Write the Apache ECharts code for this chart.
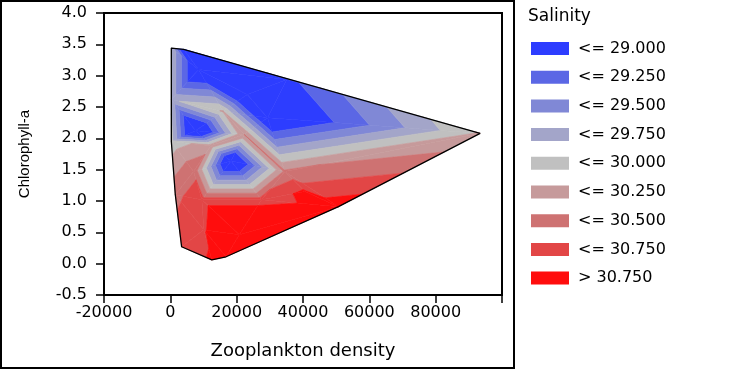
<!DOCTYPE html>
<html>
<head>
<meta charset="utf-8">
<script src="https://cdn.jsdelivr.net/npm/echarts@6.0.0/dist/echarts.min.js"></script>
<style>
  html, body { margin: 0; padding: 0; background: #fff; }
  #chart { width: 738px; height: 372px; }
</style>
</head>
<body>
<div id="chart"></div>
<script>
// measured stations: zooplankton density, chlorophyll-a, salinity
var zooDensity  = [300, 4000, 35100, 93400, 50700, 16800, 12500, 3400, 1500, 300, 300,
                   8500, 15900, 7600, 12200, 18300, 29300, 34500, 9500, 27500, 20800, 40600,
                   22300, 23200, 10100, 7000];
var chlorophyll = [3.44, 3.42, 2.94, 2.08, 0.91, 0.11, 0.06, 0.27, 1.10, 1.95, 2.62,
                   3.10, 2.43, 2.12, 1.88, 1.64, 2.33, 1.47, 1.02, 1.02, 0.46, 1.15,
                   2.06, 2.70, 0.54, 1.47];
var salinity    = [29.7, 28.6, 28.93, 30.03, 30.9, 31.3, 30.78, 30.62, 30.45, 29.85, 29.7,
                   28.5, 30.02, 28.3, 30.15, 28.4, 28.53, 30.3, 30.62, 30.62, 31.4, 30.8,
                   30.25, 28.3, 30.7, 30.45];

var bandLimits = [29.0, 29.25, 29.5, 29.75, 30.0, 30.25, 30.5, 30.75];
var bandNames = ['<= 29.000', '<= 29.250', '<= 29.500', '<= 29.750', '<= 30.000',
                 '<= 30.250', '<= 30.500', '<= 30.750', '> 30.750'];
var bandColors = ['#2d3dff', '#5b67e5', '#8088d6', '#a3a5c9', '#c0c0c0',
                  '#c69a9b', '#ce7272', '#e24646', '#ff0d0d'];

var xTicks = [-20000, 0, 20000, 40000, 60000, 80000, 100000];
var yTicks = [-0.5, 0, 0.5, 1, 1.5, 2, 2.5, 3, 3.5, 4];

// triangulate in range-normalised units
var xMin = Math.min.apply(null, zooDensity), xMax = Math.max.apply(null, zooDensity);
var yMin = Math.min.apply(null, chlorophyll), yMax = Math.max.apply(null, chlorophyll);
var pts = zooDensity.map(function (x, i) {
  return [(x - xMin) / (xMax - xMin), (chlorophyll[i] - yMin) / (yMax - yMin)];
});

function inCircle(p, t, q) {
  var a = p[t[0]], b = p[t[1]], c = p[t[2]];
  var d = 2 * (a[0] * (b[1] - c[1]) + b[0] * (c[1] - a[1]) + c[0] * (a[1] - b[1]));
  var a2 = a[0] * a[0] + a[1] * a[1], b2 = b[0] * b[0] + b[1] * b[1], c2 = c[0] * c[0] + c[1] * c[1];
  var ux = (a2 * (b[1] - c[1]) + b2 * (c[1] - a[1]) + c2 * (a[1] - b[1])) / d;
  var uy = (a2 * (c[0] - b[0]) + b2 * (a[0] - c[0]) + c2 * (b[0] - a[0])) / d;
  var r2 = (a[0] - ux) * (a[0] - ux) + (a[1] - uy) * (a[1] - uy);
  return (q[0] - ux) * (q[0] - ux) + (q[1] - uy) * (q[1] - uy) < r2;
}

function hasEdge(t, e) { return t.indexOf(e[0]) >= 0 && t.indexOf(e[1]) >= 0; }

function triangulate(p) {
  var n = p.length;
  var all = p.concat([[-100, -100], [300, -100], [-100, 300]]);
  var tris = [[n, n + 1, n + 2]];
  for (var i = 0; i < n; i++) {
    var bad = [], keep = [];
    tris.forEach(function (t) { (inCircle(all, t, all[i]) ? bad : keep).push(t); });
    var edges = [];
    bad.forEach(function (t) {
      [[t[0], t[1]], [t[1], t[2]], [t[2], t[0]]].forEach(function (e) {
        var shared = bad.some(function (u) { return u !== t && hasEdge(u, e); });
        if (!shared) edges.push(e);
      });
    });
    tris = keep;
    edges.forEach(function (e) { tris.push([e[0], e[1], i]); });
  }
  return tris.filter(function (t) { return t[0] < n && t[1] < n && t[2] < n; });
}

function convexHull(p) {
  var idx = p.map(function (_, i) { return i; }).sort(function (a, b) {
    return p[a][0] - p[b][0] || p[a][1] - p[b][1];
  });
  function cross(o, a, b) {
    return (p[a][0] - p[o][0]) * (p[b][1] - p[o][1]) - (p[a][1] - p[o][1]) * (p[b][0] - p[o][0]);
  }
  var lower = [], upper = [];
  idx.forEach(function (i) {
    while (lower.length >= 2 && cross(lower[lower.length - 2], lower[lower.length - 1], i) <= 0) lower.pop();
    lower.push(i);
  });
  idx.slice().reverse().forEach(function (i) {
    while (upper.length >= 2 && cross(upper[upper.length - 2], upper[upper.length - 1], i) <= 0) upper.pop();
    upper.push(i);
  });
  return lower.slice(0, -1).concat(upper.slice(0, -1));
}

// keep the part of a polygon on one side of a salinity level
function clipLevel(poly, level, above) {
  var out = [];
  for (var i = 0; i < poly.length; i++) {
    var a = poly[i], b = poly[(i + 1) % poly.length];
    var ina = above ? a[2] >= level : a[2] <= level;
    var inb = above ? b[2] >= level : b[2] <= level;
    if (ina) out.push(a);
    if (ina !== inb) {
      var t = (level - a[2]) / (b[2] - a[2]);
      out.push([a[0] + t * (b[0] - a[0]), a[1] + t * (b[1] - a[1]), level]);
    }
  }
  return out;
}

var triangles = triangulate(pts);
var bandPolys = bandNames.map(function () { return []; });
triangles.forEach(function (t) {
  var tri = t.map(function (i) { return [zooDensity[i], chlorophyll[i], salinity[i]]; });
  for (var k = 0; k < bandNames.length; k++) {
    var poly = tri;
    if (k > 0) poly = clipLevel(poly, bandLimits[k - 1], true);
    if (k < bandLimits.length && poly.length) poly = clipLevel(poly, bandLimits[k], false);
    if (poly.length >= 3) bandPolys[k].push(poly);
  }
});

var hull = convexHull(pts);
var hullLine = hull.concat([hull[0]]).map(function (i) { return [zooDensity[i], chlorophyll[i]]; });

var bandSeries = bandNames.map(function (name, k) {
  return {
    name: name,
    type: 'custom',
    coordinateSystem: 'cartesian2d',
    itemStyle: { color: bandColors[k] },
    encode: { x: 0, y: 1 },
    data: bandPolys[k].map(function (poly, i) { return [poly[0][0], poly[0][1], i]; }),
    renderItem: function (params, api) {
      var poly = bandPolys[k][api.value(2)];
      return {
        type: 'polygon',
        shape: { points: poly.map(function (v) { return api.coord([v[0], v[1]]); }) },
        style: { fill: bandColors[k], stroke: bandColors[k], lineWidth: 0.6 }
      };
    },
    silent: true,
    z: 2
  };
});

var chart = echarts.init(document.getElementById('chart'), null, { renderer: 'canvas' });

var labelFont = { fontFamily: 'DejaVu Sans', fontSize: 16, color: '#000' };

var option = {
  animation: false,
  title: {
    text: 'Salinity',
    left: 523,
    top: 3,
    textStyle: { fontFamily: 'DejaVu Sans', fontSize: 17, fontWeight: 'normal', color: '#000' }
  },
  legend: {
    orient: 'vertical',
    left: 531,
    top: 40,
    padding: 0,
    itemWidth: 38,
    itemHeight: 13,
    itemGap: 11.7,
    selectedMode: false,
    data: bandNames.map(function (n) { return { name: n, icon: 'rect' }; }),
    textStyle: { fontFamily: 'DejaVu Sans', fontSize: 16, color: '#000', lineHeight: 14, padding: [3, 0, 0, 4] }
  },
  grid: {
    left: 104, right: 236, top: 13, bottom: 77,
    show: true, borderColor: '#000', borderWidth: 2
  },
  xAxis: {
    type: 'value',
    min: xTicks[0], max: xTicks[xTicks.length - 1], interval: 20000,
    name: 'Zooplankton density',
    nameLocation: 'middle',
    nameGap: 47,
    nameTextStyle: { fontFamily: 'DejaVu Sans', fontSize: 18, color: '#000' },
    axisLine: { onZero: false, lineStyle: { color: '#000', width: 1.5 } },
    axisTick: { length: 8, lineStyle: { color: '#000', width: 1.5 } },
    axisLabel: Object.assign({ margin: 10, formatter: function (v) { return v === 100000 ? '' : String(v); } }, labelFont),
    splitLine: { show: false }
  },
  yAxis: {
    type: 'value',
    min: yTicks[0], max: yTicks[yTicks.length - 1], interval: 0.5,
    name: 'Chlorophyll-a',
    nameLocation: 'middle',
    nameGap: 72,
    nameTextStyle: { fontFamily: 'Liberation Sans', fontSize: 15, color: '#000' },
    axisLine: { onZero: false, lineStyle: { color: '#000', width: 1.5 } },
    axisTick: { length: 8, lineStyle: { color: '#000', width: 1.5 } },
    axisLabel: Object.assign({ margin: 17, formatter: function (v) { return v.toFixed(1); } }, labelFont),
    splitLine: { show: false }
  },
  graphic: [{
    type: 'rect',
    shape: { x: 1, y: 1, width: 513, height: 367 },
    style: { fill: 'none', stroke: '#000', lineWidth: 2 },
    silent: true
  }],
  series: bandSeries.concat([{
    name: 'hull',
    type: 'line',
    data: hullLine,
    symbol: 'none',
    lineStyle: { color: '#000', width: 1.3 },
    silent: true,
    z: 3
  }])
};

chart.setOption(option);
window.addEventListener('resize', chart.resize);
</script>
</body>
</html>
